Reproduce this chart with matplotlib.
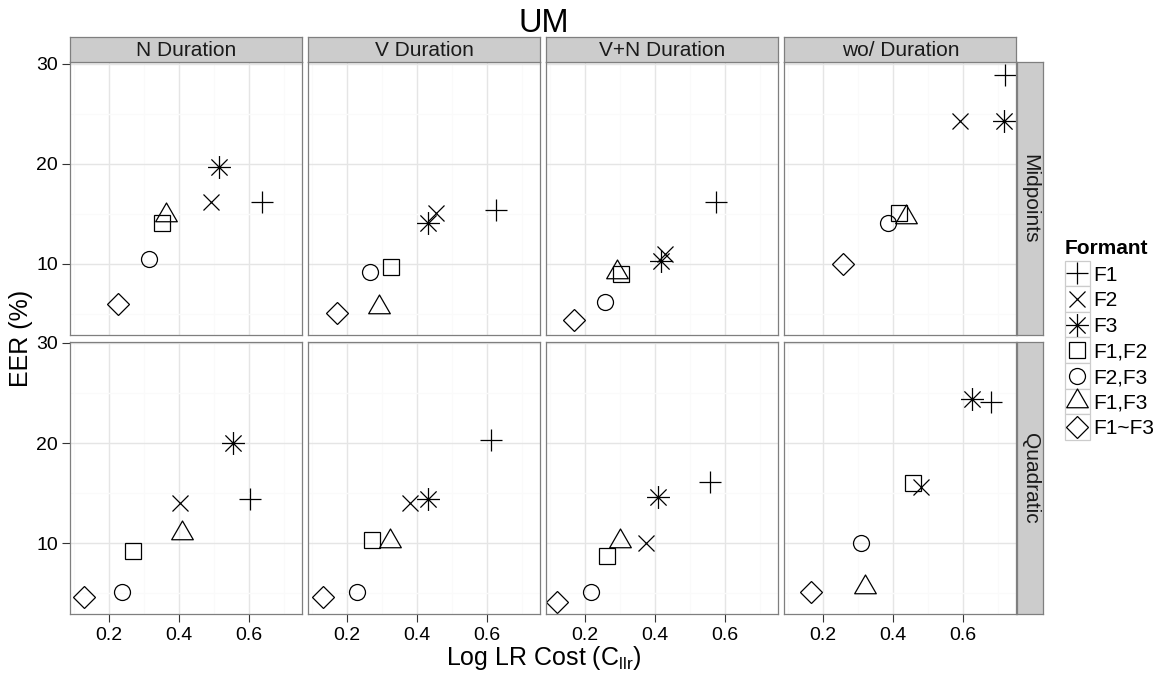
import numpy as np
import matplotlib
matplotlib.use('Agg')
import matplotlib.pyplot as plt
from matplotlib.path import Path
from matplotlib.patches import Rectangle

plt.rcParams['font.family'] = ['Liberation Sans', 'DejaVu Sans']
plt.rcParams['mathtext.default'] = 'regular'

# facets
durations = ['N Duration', 'V Duration', 'V+N Duration', 'wo/ Duration']
methods = ['Midpoints', 'Quadratic']
formants = ['F1', 'F2', 'F3', 'F1,F2', 'F2,F3', 'F1,F3', 'F1~F3']

# Cllr per duration facet, in formant order
cllr_mid = [[0.637, 0.492, 0.516, 0.351, 0.316, 0.363, 0.226],
            [0.626, 0.456, 0.433, 0.325, 0.265, 0.292, 0.173],
            [0.576, 0.429, 0.419, 0.303, 0.258, 0.291, 0.169],
            [0.722, 0.591, 0.719, 0.417, 0.386, 0.437, 0.259]]
eer_mid = [[16.15, 16.15, 19.7, 14.06, 10.5, 14.9, 5.98],
           [15.38, 15.08, 14.06, 9.73, 9.2, 5.68, 5.14],
           [16.2, 11.03, 10.33, 8.97, 6.2, 9.2, 4.35],
           [28.84, 24.29, 24.29, 15.1, 14.06, 14.66, 9.97]]
cllr_quad = [[0.604, 0.404, 0.554, 0.269, 0.238, 0.409, 0.130],
             [0.612, 0.381, 0.433, 0.273, 0.230, 0.324, 0.131],
             [0.559, 0.376, 0.408, 0.264, 0.219, 0.302, 0.121],
             [0.681, 0.481, 0.626, 0.457, 0.308, 0.320, 0.167]]
eer_quad = [[14.4, 14.06, 20.0, 9.23, 5.13, 11.03, 4.66],
            [20.26, 14.06, 14.4, 10.33, 5.13, 10.26, 4.66],
            [16.16, 10.0, 14.6, 8.73, 5.13, 10.26, 4.1],
            [24.06, 15.66, 24.4, 16.0, 10.0, 5.6, 5.13]]

xs = [cllr_mid, cllr_quad]
ys = [eer_mid, eer_quad]

# ggplot-like open shapes
M, L, C = Path.MOVETO, Path.LINETO, Path.CLOSEPOLY
tri = Path([(0, 1), (-0.866, -0.5), (0.866, -0.5), (0, 1)], [M, L, L, C])
star = Path([(-1, 0), (1, 0), (0, -1), (0, 1),
             (-.707, -.707), (.707, .707), (-.707, .707), (.707, -.707)],
            [M, L, M, L, M, L, M, L])
markers = ['+', 'x', star, 's', 'o', tri, 'D']
msizes = [16.5, 11.7, 16.5, 11.5, 11.5, 18, 11.2]

W, H = 1163, 678
fig = plt.figure(figsize=(W / 100, H / 100), dpi=100)


def fbox(left, top, w, h):
    return [left / W, 1 - (top + h) / H, w / W, h / H]


col_left = [70.3, 308.3, 546.3, 784.3]
row_top = [62.3, 341.7]
pw, ph = 232, 272.4
grey50 = '#7f7f7f'

for i in range(2):
    for j in range(4):
        ax = fig.add_axes(fbox(col_left[j], row_top[i], pw, ph))
        for k in range(7):
            ax.plot(xs[i][j][k], ys[i][j][k], linestyle='none', marker=markers[k],
                    ms=msizes[k], mfc='none', mec='black', mew=0.9)
        ax.set_xlim(0.090, 0.753)
        ax.set_ylim(2.93, 30.12)
        ax.set_xticks([0.2, 0.4, 0.6])
        ax.set_xticks([0.1, 0.3, 0.5, 0.7], minor=True)
        ax.set_yticks([10, 20, 30])
        ax.set_yticks([5, 15, 25], minor=True)
        ax.grid(which='major', color='#e5e5e5', lw=1.0)
        ax.grid(which='minor', color='#fafafa', lw=1.0)
        ax.set_axisbelow(True)
        for s in ax.spines.values():
            s.set_color(grey50)
            s.set_linewidth(0.9)
        ax.tick_params(which='minor', length=0)
        ax.tick_params(which='major', length=6, width=0.8, color='#333333',
                       labelsize=14, pad=3, labelcolor='black')
        if j > 0:
            ax.tick_params(axis='y', left=False, labelleft=False)
        if i == 0:
            ax.tick_params(axis='x', bottom=False, labelbottom=False)
        else:
            ax.set_xticklabels(['0.2', '0.4', '0.6'])
        ax.set_yticklabels(['10', '20', '30'])

# top strips
for j in range(4):
    sax = fig.add_axes(fbox(col_left[j], 36.7, pw, 25.6))
    sax.set_facecolor('#cccccc')
    sax.set_xticks([])
    sax.set_yticks([])
    for s in sax.spines.values():
        s.set_color(grey50)
        s.set_linewidth(0.9)
    sax.text(0.5, 0.45, durations[j], ha='center', va='center', fontsize=15,
             color='#1a1a1a', transform=sax.transAxes)

# right strips
for i in range(2):
    sax = fig.add_axes(fbox(1017, row_top[i], 26.3, ph))
    sax.set_facecolor('#cccccc')
    sax.set_xticks([])
    sax.set_yticks([])
    for s in sax.spines.values():
        s.set_color(grey50)
        s.set_linewidth(0.9)
    sax.text(0.5, 0.5, methods[i], ha='center', va='center', fontsize=15,
             rotation=-90, color='#1a1a1a', transform=sax.transAxes)

# titles
fig.text(543.5 / W, 1 - 31.7 / H, 'UM', ha='center', va='baseline', fontsize=23.5)
fig.text(543.5 / W, 1 - 665 / H, r'Log LR Cost (C$_{llr}$)', ha='center',
         va='baseline', fontsize=18)
fig.text(21 / W, 1 - 338 / H, 'EER (%)', ha='center', va='center',
         rotation=90, fontsize=18)

# legend
lax = fig.add_axes([0, 0, 1, 1], zorder=10)
lax.set_xlim(0, W)
lax.set_ylim(H, 0)
lax.axis('off')
lax.patch.set_alpha(0)
lax.text(1065, 253.5, 'Formant', fontsize=15, fontweight='bold', va='baseline')
for k in range(7):
    cy = 273.3 + k * 25.6
    lax.add_patch(Rectangle((1064.5, cy - 12.8), 25.6, 25.6, facecolor='white',
                            edgecolor='#cccccc', lw=0.9))
    lax.plot(1064.5 + 12.8, cy, linestyle='none', marker=markers[k], ms=msizes[k],
             mfc='none', mec='black', mew=0.9)
    lax.text(1093, cy + 7.5, formants[k], fontsize=15, va='baseline')

fig.savefig('out.png', dpi=100)
